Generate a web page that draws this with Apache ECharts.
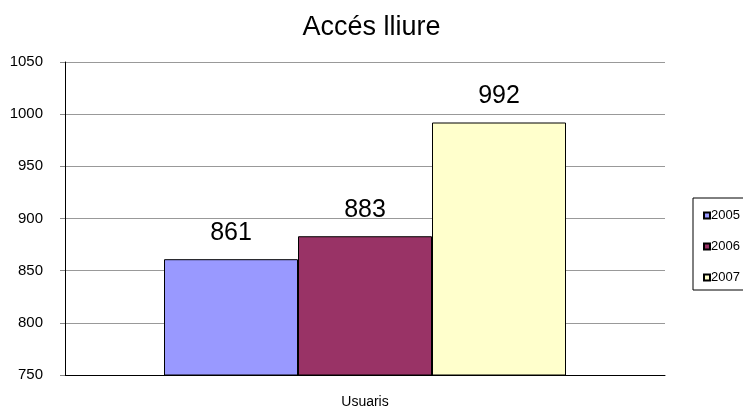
<!DOCTYPE html>
<html>
<head>
<meta charset="utf-8">
<script src="https://cdn.jsdelivr.net/npm/echarts@6/dist/echarts.min.js"></script>
<style>
html,body{margin:0;padding:0;background:#fff;}
#c{width:743px;height:410px;}
</style>
</head>
<body>
<div id="c"></div>
<script>
const titleText = "Accés lliure";
const categories = ["Usuaris"];
const seriesNames = ["2005", "2006", "2007"];
const values2005 = [861];
const values2006 = [883];
const values2007 = [992];
const yTicks = { min: 750, max: 1050, interval: 50 };
const colors = ["#9999FF", "#993366", "#FFFFCC"];

const seriesValues = [values2005, values2006, values2007];
const chart = echarts.init(document.getElementById('c'), null, {renderer: 'canvas'});
const font = "'Liberation Sans', Arial, sans-serif";
chart.setOption({
  animation: false,
  textStyle: { fontFamily: font },
  title: {
    text: titleText, left: 'center', top: 9,
    textStyle: { fontFamily: font, fontSize: 27, fontWeight: 'normal', color: '#000' }
  },
  legend: {
    orient: 'vertical', left: 693, top: 198,
    data: seriesNames,
    itemWidth: 6, itemHeight: 6, itemGap: 18,
    icon: 'rect',
    padding: [11, 30, 6, 10],
    borderColor: '#000', borderWidth: 1,
    textStyle: { fontFamily: font, fontSize: 13, color: '#000', padding: [0,0,0,-4] }
  },
  grid: { left: 65, right: 78, top: 62, bottom: 35, containLabel: false },
  xAxis: {
    type: 'category', data: categories,
    axisLine: { lineStyle: { color: '#000', width: 1 } },
    axisTick: { show: false },
    axisLabel: { fontFamily: font, fontSize: 14, color: '#000', margin: 20 }
  },
  yAxis: {
    type: 'value', min: yTicks.min, max: yTicks.max, interval: yTicks.interval,
    axisLine: { show: true, lineStyle: { color: '#000', width: 1 } },
    axisTick: { show: true, length: 5, lineStyle: { color: '#888' } },
    splitLine: { lineStyle: { color: '#999', width: 1 } },
    axisLabel: { fontFamily: font, fontSize: 15, color: '#000', margin: 22, formatter: v => String(v) }
  },
  series: seriesNames.map((n, i) => ({
    name: n, type: 'bar', data: seriesValues[i],
    barGap: '0%', barCategoryGap: '33%',
    itemStyle: { color: colors[i], borderColor: '#000', borderWidth: 1 },
    label: { show: true, position: 'top', distance: 14, fontFamily: font, fontSize: 25, color: '#000' }
  }))
});
</script>
</body>
</html>
